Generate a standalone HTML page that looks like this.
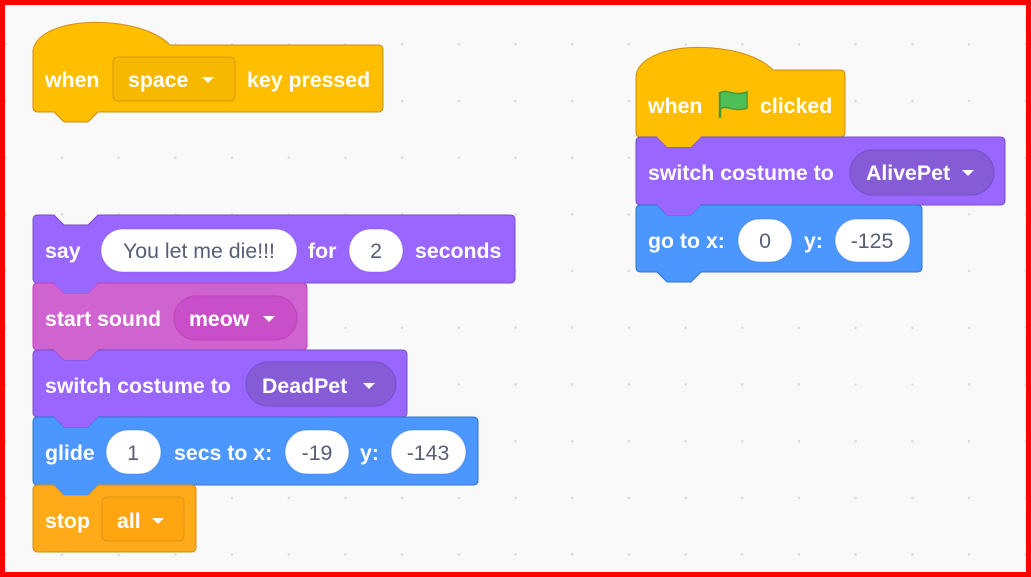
<!DOCTYPE html>
<html><head><meta charset="utf-8"><style>
html,body{margin:0;padding:0}
body{width:1031px;height:577px;overflow:hidden;background:#fff}
.frame{position:absolute;left:0;top:0;width:1021px;height:567px;border:5px solid #ff0000;background-color:#f9f9f9;
background-image:radial-gradient(circle,#d9d9d9 1px,transparent 1.5px);background-size:56.7px 56.7px;background-position:-28px 11px}
svg{position:absolute;left:0;top:0}
text{font-family:"Liberation Sans",sans-serif;font-weight:bold;font-size:21.3px;dominant-baseline:central}
.w{fill:#fff}.g{fill:#575e75}
</style></head><body>
<div class="frame"></div>
<svg width="1031" height="577" viewBox="0 0 1031 577">
<!-- hat1 -->
<path d="M33,50 C40,14 140,14 170,45 H378 Q383,45 383,50 V107 Q383,112 378,112 H98 L88,122 H64 L54,112 H38 Q33,112 33,107 Z" fill="#FFBF00" stroke="#CF8B17"/>
<rect x="113" y="57" width="122" height="44" rx="5" fill="#F7B800" stroke="#CF8B17" stroke-opacity=".7"/>
<text x="45" y="80" class="w">when</text>
<text x="128" y="80" class="w">space</text>
<path d="M202,77 h12 l-6,6 z" fill="#fff"/>
<text x="247" y="80" class="w">key pressed</text>

<!-- left stack -->
<path d="M33,220 Q33,215 38,215 H54 L64,225 H88 L98,215 H510 Q515,215 515,220 V278 Q515,283 510,283 H98 L88,293 H64 L54,283 H38 Q33,283 33,278 Z" fill="#9966FF" stroke="#774DCB"/>
<path d="M33,288 Q33,283 38,283 H54 L64,293 H88 L98,283 H302 Q307,283 307,288 V345 Q307,350 302,350 H98 L88,360 H64 L54,350 H38 Q33,350 33,345 Z" fill="#CF63CF" stroke="#BD42BD"/>
<path d="M33,355 Q33,350 38,350 H54 L64,360 H88 L98,350 H402 Q407,350 407,355 V412 Q407,417 402,417 H98 L88,427 H64 L54,417 H38 Q33,417 33,412 Z" fill="#9966FF" stroke="#774DCB"/>
<path d="M33,422 Q33,417 38,417 H54 L64,427 H88 L98,417 H473 Q478,417 478,422 V480 Q478,485 473,485 H98 L88,495 H64 L54,485 H38 Q33,485 33,480 Z" fill="#4C97FF" stroke="#3373CC"/>
<path d="M33,490 Q33,485 38,485 H54 L64,495 H88 L98,485 H191 Q196,485 196,490 V547 Q196,552 191,552 H38 Q33,552 33,547 Z" fill="#FFAB19" stroke="#CF8B17"/>
<path d="M54,283 L64,293 H88 L98,283 Z" fill="#9966FF"/>
<path d="M54,350 L64,360 H88 L98,350 Z" fill="#CF63CF"/>
<path d="M54,417 L64,427 H88 L98,417 Z" fill="#9966FF"/>
<path d="M54,485 L64,495 H88 L98,485 Z" fill="#4C97FF"/>

<text x="45" y="251" class="w">say</text>
<rect x="101" y="229" width="196" height="43" rx="21.5" fill="#fff" stroke="#774DCB" stroke-opacity=".4"/>
<text x="199" y="251" class="g" text-anchor="middle" style="font-weight:normal">You let me die!!!</text>
<text x="308" y="251" class="w">for</text>
<rect x="349" y="229" width="54" height="43" rx="21.5" fill="#fff" stroke="#774DCB" stroke-opacity=".4"/>
<text x="376" y="251" class="g" text-anchor="middle" style="font-weight:normal">2</text>
<text x="415" y="251" class="w">seconds</text>

<text x="45" y="319" class="w">start sound</text>
<rect x="174" y="296" width="123" height="44" rx="22" fill="#C94FC9" stroke="#BD42BD"/>
<text x="189" y="319" class="w">meow</text>
<path d="M263,316 h12 l-6,6 z" fill="#fff"/>

<text x="45" y="386" class="w">switch costume to</text>
<rect x="246" y="362" width="150" height="44" rx="22" fill="#855CD6" stroke="#774DCB"/>
<text x="262" y="386" class="w">DeadPet</text>
<path d="M363,383 h12 l-6,6 z" fill="#fff"/>

<text x="45" y="453" class="w">glide</text>
<rect x="106" y="430" width="55" height="44" rx="22" fill="#fff" stroke="#3373CC" stroke-opacity=".4"/>
<text x="133" y="453" class="g" text-anchor="middle" style="font-weight:normal">1</text>
<text x="174" y="453" class="w">secs to x:</text>
<rect x="285" y="430" width="64" height="44" rx="22" fill="#fff" stroke="#3373CC" stroke-opacity=".4"/>
<text x="317" y="453" class="g" text-anchor="middle" style="font-weight:normal">-19</text>
<text x="360" y="453" class="w">y:</text>
<rect x="391" y="430" width="75" height="44" rx="22" fill="#fff" stroke="#3373CC" stroke-opacity=".4"/>
<text x="428" y="453" class="g" text-anchor="middle" style="font-weight:normal">-143</text>

<text x="45" y="521" class="w">stop</text>
<rect x="102" y="497" width="82" height="44" rx="5" fill="#FFA510" stroke="#CF8B17" stroke-opacity=".7"/>
<text x="117" y="521" class="w">all</text>
<path d="M152,518 h12 l-6,6 z" fill="#fff"/>

<!-- right stack -->
<path d="M636,75 C643,39 743,39 773,70 H840 Q845,70 845,75 V132 Q845,137 840,137 H701 L691,147 H667 L657,137 H641 Q636,137 636,132 Z" fill="#FFBF00" stroke="#CF8B17"/>
<path d="M636,142 Q636,137 641,137 H657 L667,147 H691 L701,137 H1000 Q1005,137 1005,142 V200 Q1005,205 1000,205 H701 L691,215 H667 L657,205 H641 Q636,205 636,200 Z" fill="#9966FF" stroke="#774DCB"/>
<path d="M636,210 Q636,205 641,205 H657 L667,215 H691 L701,205 H917 Q922,205 922,210 V267 Q922,272 917,272 H701 L691,282 H667 L657,272 H641 Q636,272 636,267 Z" fill="#4C97FF" stroke="#3373CC"/>
<path d="M657,137 L667,147 H691 L701,137 Z" fill="#FFBF00"/>
<path d="M657,205 L667,215 H691 L701,205 Z" fill="#9966FF"/>

<text x="648" y="106" class="w">when</text>
<path d="M720,92 V118" stroke="#45993D" stroke-width="2.5"/>
<path d="M720,93 C727,88 733,97 747,92 V108 C733,113 727,104 720,109 Z" fill="#4CBF56" stroke="#45993D" stroke-width="1.5"/>
<text x="760" y="106" class="w">clicked</text>

<text x="648" y="173" class="w">switch costume to</text>
<rect x="850" y="150" width="144" height="45" rx="22.5" fill="#855CD6" stroke="#774DCB"/>
<text x="866" y="173" class="w">AlivePet</text>
<path d="M962,170 h12 l-6,6 z" fill="#fff"/>

<text x="648" y="241" class="w">go to x:</text>
<rect x="738" y="219" width="54" height="43" rx="21.5" fill="#fff" stroke="#3373CC" stroke-opacity=".4"/>
<text x="765" y="241" class="g" text-anchor="middle" style="font-weight:normal">0</text>
<text x="804" y="241" class="w">y:</text>
<rect x="835" y="219" width="75" height="43" rx="21.5" fill="#fff" stroke="#3373CC" stroke-opacity=".4"/>
<text x="872" y="241" class="g" text-anchor="middle" style="font-weight:normal">-125</text>
</svg>
</body></html>
